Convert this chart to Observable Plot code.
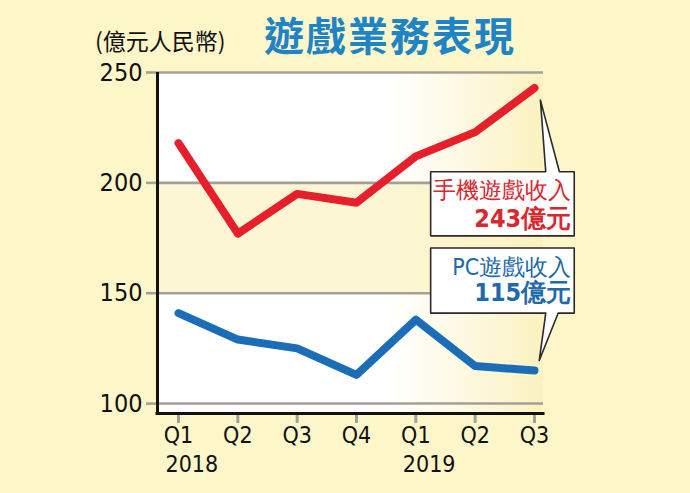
<!DOCTYPE html>
<html>
<head>
<meta charset="utf-8">
<script src="https://cdn.jsdelivr.net/npm/d3@7"></script>
<script src="https://cdn.jsdelivr.net/npm/@observablehq/plot@0.6"></script>
<style>
  html, body { margin: 0; padding: 0; background: #fdf6c8; }
  #wrap { position: relative; width: 690px; height: 493px; overflow: hidden; }
  #title { position: absolute; left: 264px; top: 13px; font: bold 40px/42px "Noto Sans CJK TC", sans-serif; color: #1e84c6; letter-spacing: 2px; white-space: nowrap; }
  #unit { position: absolute; left: 95px; top: 27px; font: 23px/26px "Noto Sans CJK TC", sans-serif; color: #111; white-space: nowrap; }
  svg text { font-family: "DejaVu Sans Condensed", "DejaVu Sans", sans-serif; font-stretch: condensed; }
</style>
</head>
<body>
<div id="wrap">
  <div id="chart"></div>
  <div id="unit">(億元人民幣)</div>
  <div id="title">遊戲業務表現</div>
</div>
<script>
// ---- data ----
const quarters = ["Q1", "Q2", "Q3", "Q4", "Q1", "Q2", "Q3"];
const yearLabels = ["2018", "2019"];
const yearIndex = [0, 4];
const mobile = [218, 177, 195, 191, 212, 223, 243];
const pc = [141, 129, 125, 113, 138, 117, 115];
const yTicks = [100, 150, 200, 250];
const mobileLabel = ["手機遊戲收入", "243億元"];
const pcLabel = ["PC遊戲收入", "115億元"];

// ---- layout (scale domains and annotation anchors in data units) ----
const X_MIN = -0.354, X_MAX = 6.152;
const Y_MIN = 95.5, Y_MAX = 250;
const mobileBubble = [[4.25,205],[6.19,205],[6.1,237.5],[6.42,205],[6.67,205],[6.67,176],[4.25,176]];
const pcBubble = [[4.25,170.5],[6.67,170.5],[6.67,141],[6.40,141],[6.08,119.5],[6.19,141],[4.25,141]];
const labelX = 6.62;
const mobileLabelY = [196.5, 183.6];
const pcLabelY = [161.6, 150.2];

const idx = quarters.map((_, i) => i);
const mobileData = idx.map(i => ({i, v: mobile[i]}));
const pcData = idx.map(i => ({i, v: pc[i]}));
const years = yearLabels.map((t, k) => ({i: yearIndex[k], t}));

const grey = "#a3a197";
const cjk = "Noto Sans CJK TC";

const chart = Plot.plot({
  width: 690,
  height: 493,
  marginLeft: 157,
  marginRight: 147,
  marginTop: 72,
  marginBottom: 80,
  style: {background: "transparent", overflow: "visible"},
  x: {type: "linear", domain: [X_MIN, X_MAX], axis: null},
  y: {type: "linear", domain: [Y_MIN, Y_MAX], axis: null},
  marks: [
    Plot.frame({fill: "white", stroke: "none"}),
    Plot.rect([0], {y1: 150, y2: 200, fill: "#fcf6d4"}),
    Plot.frame({fill: "url(#glow)", stroke: "none"}),
    Plot.gridY({ticks: yTicks, stroke: grey, strokeOpacity: 1, strokeWidth: 2.6}),
    Plot.axisY({ticks: yTicks, tickSize: 11, tickPadding: 4, stroke: grey, strokeWidth: 2.6, fill: "#111", fontSize: 25, label: null}),
    Plot.axisX({ticks: idx, tickFormat: i => quarters[i], tickSize: 10, tickPadding: 3, stroke: grey, strokeWidth: 3, fill: "#111", fontSize: 23, label: null}),
    Plot.text(years, {x: "i", text: "t", frameAnchor: "bottom", dy: 58, dx: -13, textAnchor: "start", fontSize: 23, fill: "#111"}),
    Plot.ruleX([X_MIN], {stroke: "#111", strokeWidth: 3}),
    Plot.ruleY([Y_MIN], {stroke: "#111", strokeWidth: 3, strokeLinecap: "square"}),
    Plot.line(mobileData, {x: "i", y: "v", stroke: "#e5202b", strokeWidth: 8, strokeLinecap: "round", strokeLinejoin: "round"}),
    Plot.line(pcData, {x: "i", y: "v", stroke: "#1b6db8", strokeWidth: 8, strokeLinecap: "round", strokeLinejoin: "round"}),
    Plot.line(mobileBubble, {x: d => d[0], y: d => d[1], curve: "linear-closed", fill: "white", stroke: "#2a2a2a", strokeWidth: 1.6}),
    Plot.line(pcBubble, {x: d => d[0], y: d => d[1], curve: "linear-closed", fill: "white", stroke: "#2a2a2a", strokeWidth: 1.6}),
    Plot.text([mobileLabel[0]], {x: labelX, y: mobileLabelY[0], text: d => d, textAnchor: "end", fontSize: 23, fontFamily: cjk, fill: "#d8282f"}),
    Plot.text([mobileLabel[1]], {x: labelX, y: mobileLabelY[1], text: d => d, textAnchor: "end", fontSize: 25, fontWeight: "bold", fontFamily: cjk, fill: "#d8282f"}),
    Plot.text([pcLabel[0]], {x: labelX, y: pcLabelY[0], text: d => d, textAnchor: "end", fontSize: 23, fontFamily: cjk, fill: "#1f6aaa"}),
    Plot.text([pcLabel[1]], {x: labelX, y: pcLabelY[1], text: d => d, textAnchor: "end", fontSize: 25, fontWeight: "bold", fontFamily: cjk, fill: "#1f6aaa"})
  ]
});

chart.insertAdjacentHTML("afterbegin",
  '<defs><linearGradient id="glow" x1="0" y1="0" x2="1" y2="0">' +
  '<stop offset="0.6" stop-color="#fbf2bf" stop-opacity="0"/>' +
  '<stop offset="0.85" stop-color="#fbf2bf" stop-opacity="0.6"/>' +
  '<stop offset="1" stop-color="#fbf2bf" stop-opacity="1"/>' +
  '</linearGradient></defs>');

document.getElementById("chart").appendChild(chart);
</script>
</body>
</html>
